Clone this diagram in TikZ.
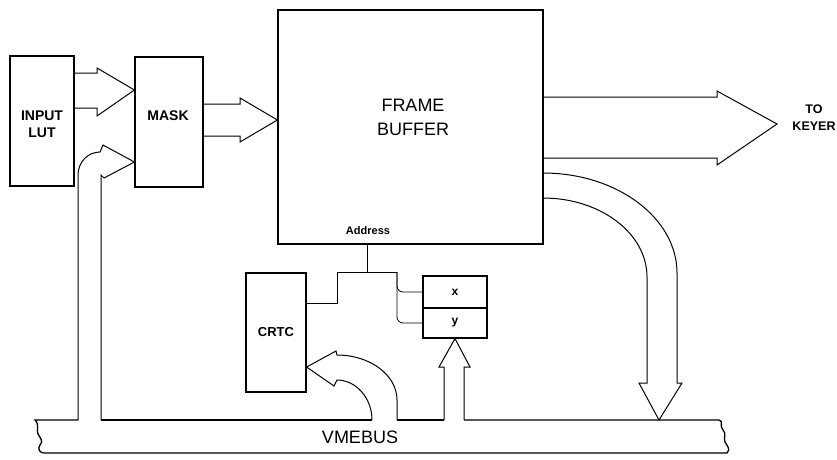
\documentclass[tikz,border=0pt]{standalone}
\usepackage{fontspec}
\setmainfont{Liberation Sans}
\begin{document}
\begin{tikzpicture}[x=1pt,y=-1pt,
  box/.style={draw, line width=1.2pt, inner sep=0pt, align=center,
    font=\fontsize{14}{17}\selectfont\bfseries},
  fat/.style={draw, line width=1pt, line join=miter},
  wire/.style={draw, line width=0.8pt},
  bus/.style={draw, line width=1.3pt},
  lab/.style={inner sep=0pt, align=center}]
\useasboundingbox (0,0) rectangle (837,459);
% boxes
\node[box, minimum width=64pt, minimum height=130pt] (lut) at (42,121) {};
\node[lab, font=\fontsize{14}{17}\selectfont\bfseries] (luttext) at (42,124) {INPUT\\LUT};
\node[box, minimum width=68pt, minimum height=130pt] (mask) at (169,122) {};
\node[lab, font=\fontsize{14}{17}\selectfont\bfseries] (masktext) at (168,116) {MASK};
\node[box, minimum width=265pt, minimum height=234pt] (fb) at (410.5,127) {};
\node[lab, font=\fontsize{18}{24}\selectfont] (fbt) at (413,117) {FRAME\\BUFFER};
\node[lab, font=\fontsize{11}{13}\selectfont\bfseries] (addr) at (368,231) {Address};
\node[box, font=\fontsize{13}{15}\selectfont\bfseries, minimum width=60pt, minimum height=119pt] (crtc) at (276,332.5) {CRTC};
\node[box, font=\fontsize{12}{14}\selectfont\bfseries, minimum width=64pt, minimum height=32pt] (rx) at (455,292) {x};
\node[box, font=\fontsize{12}{14}\selectfont\bfseries, minimum width=64pt, minimum height=30pt] (ry) at (455,323) {y};
\node[lab, font=\fontsize{12.5}{17}\selectfont\bfseries] (keyer) at (814,118) {TO\\KEYER};
\node[lab, font=\fontsize{18}{22}\selectfont] (vme) at (360,437) {VMEBUS};
% address wires
\coordinate (j) at (367,272);
\coordinate (jl) at (337,272);
\coordinate (jr) at (397,272);
\draw[wire] (fb.south -| j) -- (j);
\draw[wire] (jl) -- (jr);
\draw[wire] (jl) -- (jl |- 0,303) -- (crtc.east |- 0,303);
\draw[wire, rounded corners=6pt] (jr) -- (jr |- rx.west) -- (rx.west);
\draw[wire, rounded corners=6pt] (jr) -- (jr |- ry.west) -- (ry.west);
% fat arrows
\draw[fat] (74,73) -- (97,73) -- (97,68) -- (mask.west |- 0,90) -- (97,116) -- (97,108) -- (74,108);
\draw[fat] (203,104) -- (240,104) -- (240,98) -- (fb.west |- 0,120) -- (240,142) -- (240,136) -- (203,136);
\draw[fat] (543,97) -- (717,97) -- (717,91) -- (777,124) -- (717,165) -- (717,158) -- (543,158);
\draw[fat] (543,173) .. controls (617,173) and (677,218) .. (677,273) -- (677,383) -- (682,383)
  -- (659,420) -- (639,383) -- (647,383) -- (647,277) .. controls (647,233) and (600,198) .. (543,198);
\draw[fat] (397,420) -- (397,400) .. controls (397,375) and (370,355) .. (337,355) -- (336,351)
  -- (crtc.east |- 0,367) -- (334,386) -- (337,380) .. controls (356,380) and (372,398) .. (372,420);
\draw[fat] (444,420) -- (444,367) -- (439,367) -- (ry.south) -- (470,367) -- (464,367) -- (464,420);
\draw[fat] (78,420) -- (78,175) .. controls (78,162) and (88,152) .. (100,152) -- (103,145)
  -- (mask.west |- 0,162) -- (104,178) -- (101,175) -- (101,420);
% bus
\draw[bus] (78,420) -- (35,420) .. controls (40,425) and (36,430) .. (38,434)
  .. controls (40,438) and (44,441) .. (40,445) .. controls (37,449) and (40,453) .. (44,453)
  -- (727,453) .. controls (731,449) and (727,446) .. (725,442)
  .. controls (723,438) and (727,434) .. (723,430) .. controls (719,426) and (724,421) .. (719,420)
  -- (464,420);
\draw[bus] (101,420) -- (372,420);
\draw[bus] (397,420) -- (444,420);
\end{tikzpicture}
\end{document}
